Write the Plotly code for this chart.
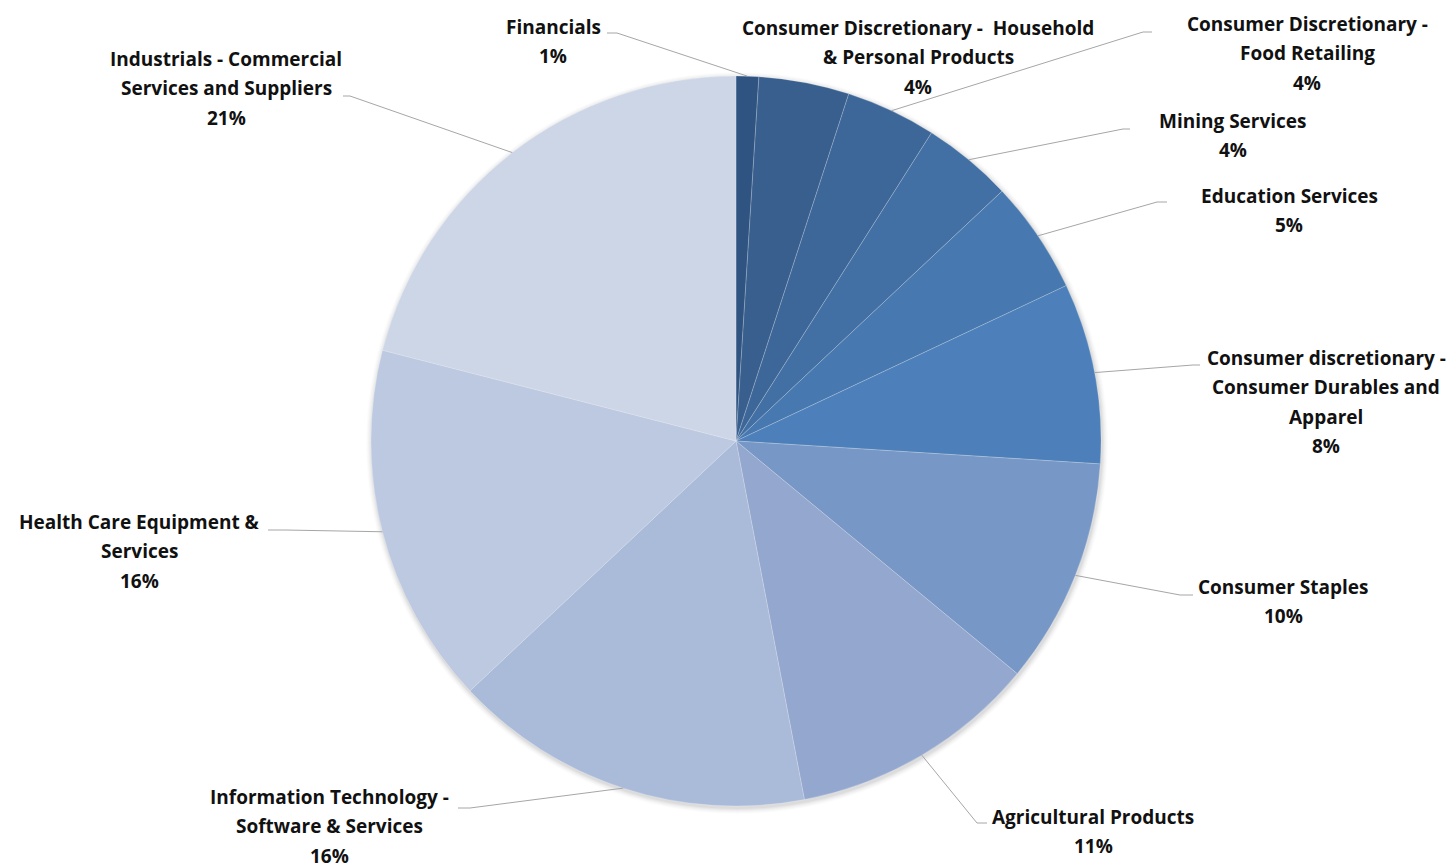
import math
import plotly.graph_objects as go

W, H = 1453, 868

# ---------------- data ----------------
categories = [
    "Financials",
    "Consumer Discretionary -  Household & Personal Products",
    "Consumer Discretionary - Food Retailing",
    "Mining Services",
    "Education Services",
    "Consumer discretionary - Consumer Durables and Apparel",
    "Consumer Staples",
    "Agricultural Products",
    "Information Technology - Software & Services",
    "Health Care Equipment & Services",
    "Industrials - Commercial Services and Suppliers",
]
values = [1, 4, 4, 4, 5, 8, 10, 11, 16, 16, 21]

# wrapped label text (as shown in the chart)
label_lines = [
    ["Financials"],
    ["Consumer Discretionary -  Household", "& Personal Products"],
    ["Consumer Discretionary -", "Food Retailing"],
    ["Mining Services"],
    ["Education Services"],
    ["Consumer discretionary -", "Consumer Durables and", "Apparel"],
    ["Consumer Staples"],
    ["Agricultural Products"],
    ["Information Technology -", "Software & Services"],
    ["Health Care Equipment &", "Services"],
    ["Industrials - Commercial", "Services and Suppliers"],
]

# ---------------- style / layout ----------------
colors = ["#2F5482", "#395F8F", "#3D6799", "#4270A4", "#4778AF", "#4D80BA",
          "#7797C6", "#94A8CF", "#AABAD9", "#BCC9E1", "#CDD6E7"]

CX, CY, R = 736, 441, 365          # pie centre / radius in pixels
LINE_STEP = 29.3                   # label line spacing (px)

# label block: centre x, first-line centre y (px)
label_pos = [
    (553, 27), (918, 28), (1307, 24), (1233, 121), (1289, 196), (1326, 358),
    (1283, 587), (1093, 817), (329, 797), (139, 522), (226, 59),
]
# leader line: label-side end point, elbow point (px); None = no leader line
leader = [
    ((607, 33), (617, 33)),
    None,
    ((1152, 32), (1143, 32)),
    ((1130, 129), (1123, 129)),
    ((1167, 202), (1157, 202)),
    ((1200, 365), (1193, 365)),
    ((1193, 595), (1180, 595)),
    ((987, 823), (977, 823)),
    ((458, 808), (470, 808)),
    ((268, 530), (285, 530)),
    ((343, 96), (350, 96)),
]


def px(x):
    return x / W


def py(y):
    return 1 - y / H


fig = go.Figure(go.Pie(
    labels=categories,
    values=values,
    sort=False,
    direction="clockwise",
    rotation=0,
    textinfo="none",
    hoverinfo="label+percent",
    marker=dict(colors=colors, line=dict(color="rgba(255,255,255,0.35)", width=0.6)),
    domain=dict(x=[px(CX - R), px(CX + R)], y=[py(CY + R), py(CY - R)]),
    showlegend=False,
))

total = sum(values)
annotations = []
shapes = []

# soft shadow around the pie
for k, a in enumerate([0.035, 0.03, 0.025, 0.02, 0.015, 0.01]):
    rr = R + 1 + k
    shapes.append(dict(
        type="circle", xref="paper", yref="paper", layer="below",
        x0=px(CX - rr + 1), x1=px(CX + rr + 1), y0=py(CY + rr + 2), y1=py(CY - rr + 2),
        line=dict(width=0), fillcolor=f"rgba(0,0,0,{a})",
    ))

cum = 0
for i, v in enumerate(values):
    mid = (cum + v / 2) / total
    cum += v
    pct = f"{round(v / total * 100)}%"
    lines = label_lines[i] + [pct]
    lx, ly = label_pos[i]
    for j, t in enumerate(lines):
        annotations.append(dict(
            x=px(lx), y=py(ly + j * LINE_STEP), xref="paper", yref="paper",
            text=t, showarrow=False, xanchor="center", yanchor="middle",
            borderpad=0,
            font=dict(family="Open Sans", size=19, color="#111111", weight="bold"),
        ))
    if leader[i] is not None:
        theta = 2 * math.pi * mid
        ax = CX + R * math.sin(theta)
        ay = CY - R * math.cos(theta)
        (ex, ey), (bx, by) = leader[i]
        path = f"M {px(ex)},{py(ey)} L {px(bx)},{py(by)} L {px(ax)},{py(ay)}"
        shapes.append(dict(type="path", xref="paper", yref="paper", path=path,
                           line=dict(color="#A6A6A6", width=1), layer="above"))

fig.update_layout(
    width=W, height=H,
    margin=dict(l=0, r=0, t=0, b=0),
    paper_bgcolor="white", plot_bgcolor="white",
    annotations=annotations, shapes=shapes,
)

fig.write_html("out.html")
